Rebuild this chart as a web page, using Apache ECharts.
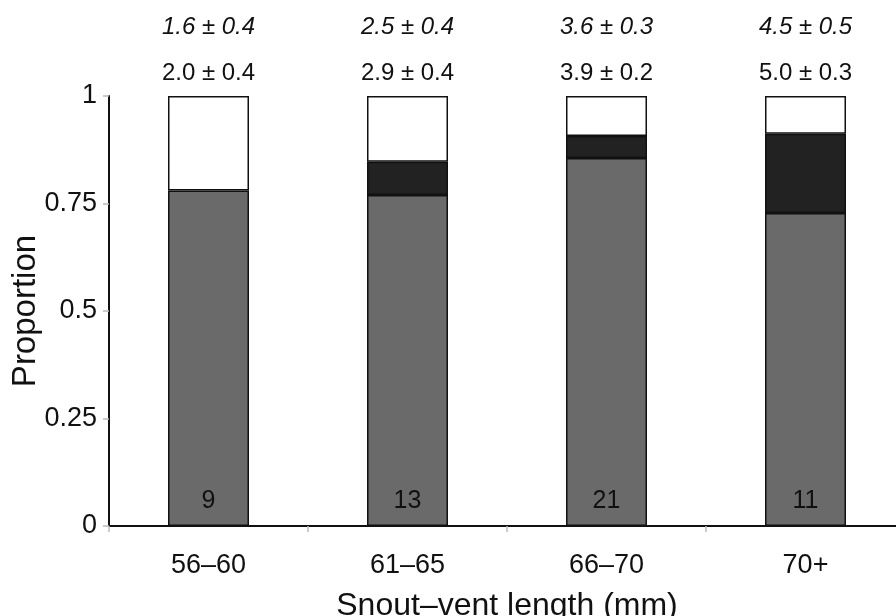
<!DOCTYPE html>
<html>
<head>
<meta charset="utf-8">
<script src="https://cdn.jsdelivr.net/npm/echarts@6/dist/echarts.min.js"></script>
<style>
html,body{margin:0;padding:0;background:#fff;}
#c{width:896px;height:616px;}
</style>
</head>
<body>
<div id="c"></div>
<script>
var categories = ['56\u201360', '61\u201365', '66\u201370', '70+'];
var grayVals = [0.78, 0.77, 0.856, 0.728];
var blackVals = [0.0, 0.077, 0.051, 0.184];
var whiteVals = [0.22, 0.153, 0.093, 0.088];
var counts = ['9', '13', '21', '11'];
var italicMeans = ['1.6 \u00b1 0.4', '2.5 \u00b1 0.4', '3.6 \u00b1 0.3', '4.5 \u00b1 0.5'];
var normalMeans = ['2.0 \u00b1 0.4', '2.9 \u00b1 0.4', '3.9 \u00b1 0.2', '5.0 \u00b1 0.3'];
var yTicks = [0, 0.25, 0.5, 0.75, 1];

var FONT = '"Liberation Sans", Arial, Helvetica, sans-serif';
var chart = echarts.init(document.getElementById('c'), null, {renderer: 'canvas'});
var barStyle = function (c) { return {color: c, borderColor: '#111', borderWidth: 1.5}; };
var skipZero = function (arr) { return arr.map(function (v) { return v === 0 ? '-' : v; }); };

chart.setOption({
  animation: false,
  backgroundColor: '#fff',
  textStyle: {fontFamily: FONT},
  grid: {left: 109, top: 96, width: 796, height: 430, containLabel: false, outerBoundsMode: 'none'},
  xAxis: {
    type: 'category',
    data: categories,
    name: 'Snout\u2013vent length (mm)',
    nameLocation: 'middle',
    nameGap: 64,
    nameMoveOverlap: false,
    nameTextStyle: {fontSize: 32, color: '#111', fontFamily: FONT},
    axisLine: {lineStyle: {color: '#111', width: 2}},
    axisTick: {show: true, length: 6, lineStyle: {color: '#bbb', width: 1.5}},
    axisLabel: {fontSize: 27, color: '#111', margin: 26, fontFamily: FONT},
    splitLine: {show: false}
  },
  yAxis: {
    type: 'value',
    min: 0, max: 1, interval: 0.25,
    name: 'Proportion',
    nameLocation: 'middle',
    nameGap: 67,
    nameMoveOverlap: false,
    nameTextStyle: {fontSize: 33, color: '#111', fontFamily: FONT},
    axisLine: {show: true, lineStyle: {color: '#111', width: 2}},
    axisTick: {show: true, length: 6, lineStyle: {color: '#bbb', width: 1.5}},
    axisLabel: {fontSize: 27, color: '#111', margin: 12, fontFamily: FONT,
      formatter: function (v) { return yTicks.indexOf(v) >= 0 ? String(v) : ''; }},
    splitLine: {show: false}
  },
  series: [
    {
      type: 'bar', stack: 's', barWidth: 81,
      data: grayVals,
      itemStyle: barStyle('#6a6a6a'),
      label: {show: true, position: 'insideBottom', distance: 12, fontSize: 25, color: '#111', fontFamily: FONT,
        formatter: function (p) { return counts[p.dataIndex]; }}
    },
    {
      type: 'bar', stack: 's', barWidth: 81,
      data: skipZero(blackVals),
      itemStyle: barStyle('#222222')
    },
    {
      type: 'bar', stack: 's', barWidth: 81,
      data: whiteVals,
      itemStyle: barStyle('#ffffff'),
      label: {show: true, position: 'top', distance: 0, color: '#111', fontFamily: FONT,
        formatter: function (p) { return '{i|' + italicMeans[p.dataIndex] + '}\n{n|' + normalMeans[p.dataIndex] + '}'; },
        rich: {
          i: {fontSize: 24, fontStyle: 'italic', lineHeight: 46, color: '#111', fontFamily: FONT},
          n: {fontSize: 24, lineHeight: 46, color: '#111', fontFamily: FONT}
        }}
    }
  ]
});
</script>
</body>
</html>
